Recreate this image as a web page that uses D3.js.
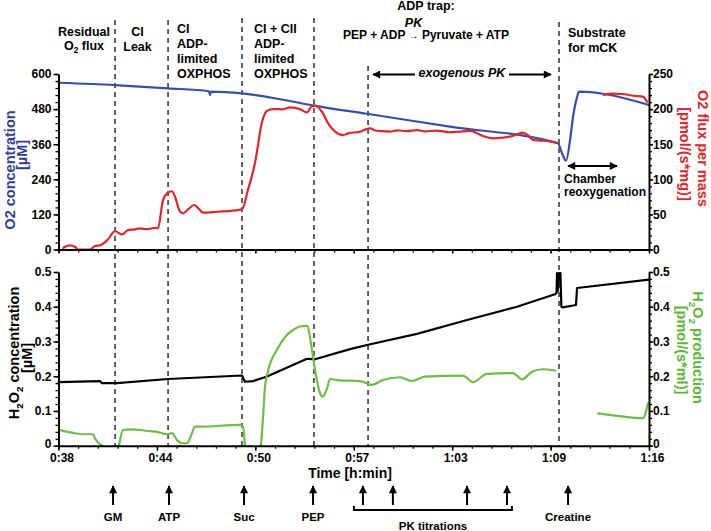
<!DOCTYPE html>
<html><head><meta charset="utf-8">
<script src="https://cdn.jsdelivr.net/npm/d3@7"></script>
<style>
html,body{margin:0;padding:0;background:#fff;}
</style></head><body>
<svg id="chart" width="711" height="531"></svg>
<script>
// ---------------- DATA ----------------
const xDomain = [38, 76];               // minutes
const xTickLabels = ["0:38","0:44","0:50","0:57","1:03","1:09","1:16"];
const o2Ticks = [0,120,240,360,480,600];
const fluxTicks = [0,50,100,150,200,250];
const h2o2Ticks = [0,0.1,0.2,0.3,0.4,0.5];

// O2 concentration [µM] (blue, left top axis)  [minute, value]
const o2Concentration = [[38.00,570],[41.64,562],[45.05,551],[47.68,541],[47.75,528],[47.81,540],[49.81,534],[52.45,512],[54.44,492],[57.85,464],[63.19,420],[70.14,363],[70.40,329],[70.66,304],[70.92,374],[71.11,453],[71.37,521],[71.49,540],[76.00,494]];

// O2 flux per mass [pmol/(s*mg)] (red, right top axis)
const o2FluxA = [[38.30,2],[38.42,4],[38.74,6],[39.06,4],[39.25,0],[40.03,0],[40.35,5],[40.67,6],[41.12,13],[41.64,26],[42.09,21.6],[42.47,27.8],[42.92,28.7],[43.24,30],[43.69,29],[44.21,31],[44.40,30],[44.72,70],[44.98,80],[45.30,83],[45.50,75],[45.82,54],[46.01,51.6],[46.33,57],[46.72,63.4],[47.11,56],[47.30,52.4],[48.20,53.8],[49.23,55.3],[49.81,57.3],[50.19,84.8],[50.64,122.8],[51.10,182],[51.42,197.7],[51.80,200],[52.45,199.7],[52.90,202.6],[53.54,200],[53.99,195.4],[54.31,204.4],[54.51,205],[54.96,196],[55.34,180],[55.80,168],[56.31,163],[56.63,165.5],[57.40,167.8],[57.70,170.5],[58.05,172.6],[58.40,169.5],[58.80,168.5],[59.33,167.8],[59.80,169.8],[60.40,168.6],[61.07,170],[61.60,168.2],[62.30,169.4],[63.19,167],[63.80,168],[64.48,169],[64.90,166],[65.32,161.7],[65.96,158.4],[66.50,159.2],[67.05,160.7],[67.50,164],[67.83,166.4],[68.21,163],[68.53,156],[69.18,155],[69.60,154],[70.08,152]];
const o2FluxB = [[73.10,220],[73.60,222],[74.33,221.5],[75.00,219],[75.61,217.7],[75.87,210.5]];

// H2O2 concentration [µM] (black, left bottom axis)
const h2o2Concentration = [[38.00,0.183],[40.67,0.186],[40.80,0.180],[41.76,0.180],[45.05,0.192],[49.81,0.202],[50.00,0.184],[50.52,0.186],[51.42,0.199],[53.99,0.250],[54.51,0.249],[56.76,0.278],[57.85,0.290],[61.07,0.322],[64.29,0.362],[67.50,0.400],[69.95,0.436],[70.05,0.440],[70.08,0.497],[70.12,0.445],[70.21,0.497],[70.30,0.497],[70.36,0.400],[70.46,0.398],[71.30,0.405],[71.37,0.454],[76.00,0.478]];

// H2O2 production [pmol/(s*ml)] (green, right bottom axis)
const h2o2ProdA = [[38.10,0.045],[38.93,0.037],[39.58,0.033],[40.22,0.033],[40.35,0.021],[40.80,0]];
const h2o2ProdB = [[41.89,0],[42.15,0.045],[42.60,0.047],[43.89,0.042],[44.34,0.040],[44.98,0.033],[45.30,0.036],[45.63,0.016],[45.95,0.007],[46.27,0.007],[46.59,0.036],[46.78,0.055],[47.11,0.055],[49.68,0.060],[49.87,0.055],[50.00,0]];
const h2o2ProdC = [[51.03,0],[51.16,0.08],[51.29,0.17],[51.48,0.215],[52.06,0.276],[52.70,0.319],[53.09,0.333],[53.54,0.343],[53.99,0.345],[54.31,0.276],[54.51,0.218],[54.83,0.151],[55.02,0.141],[55.28,0.165],[55.47,0.192],[55.92,0.189],[57.40,0.186],[58.17,0.175],[58.88,0.189],[59.98,0.197],[60.75,0.186],[61.58,0.199],[64.03,0.202],[64.67,0.183],[65.57,0.207],[67.25,0.209],[67.83,0.191],[68.47,0.213],[69.18,0.220],[69.95,0.216]];
const h2o2ProdD = [[72.72,0.093],[73.94,0.086],[75.61,0.079],[75.93,0.122]];

// Protocol
const phaseBoundaries = [41.64,45.05,49.81,54.44,57.92,70.21];
const additionNames = ["GM","ATP","Suc","PEP","Creatine"];
const additionTimes = [41.51,45.11,49.94,54.38,70.79];
const pkTitrationTimes = [57.59,59.52,64.29,66.86];
const pkBracket = [57.01,67.18];

// ---------------- DRAW ----------------
const FONT = '"Liberation Sans", Arial, Helvetica, sans-serif';
const BLUE = "#3a4ea6", BLUE_T = "#2f3f98", RED = "#e3262b", GREEN = "#6dbd47", GREEN_T = "#5cb83e";
const svg = d3.select("#chart").attr("font-family", FONT).attr("font-weight","bold");

const x = d3.scaleLinear().domain(xDomain).range([58.5, 649]);
const yO2 = d3.scaleLinear().domain([0,600]).range([249.5, 74]);
const yFlux = d3.scaleLinear().domain([0,250]).range([249.5, 74]);
const yConc = d3.scaleLinear().domain([0,0.5]).range([445.7, 272]);
const yProd = d3.scaleLinear().domain([0,0.5]).range([445.7, 272]);

const defs = svg.append("defs");
defs.append("marker").attr("id","ah").attr("viewBox","0 0 10 10").attr("refX",9).attr("refY",5)
  .attr("markerUnits","userSpaceOnUse").attr("markerWidth",9).attr("markerHeight",8)
  .attr("orient","auto-start-reverse")
  .append("path").attr("d","M0,0 L10,5 L0,10 z").attr("fill","#000");

// phase boundary dashed lines
const dashTops = [20,20,18,18,66,22];
svg.append("g").selectAll("line").data(phaseBoundaries).join("line")
  .attr("x1",d=>x(d)).attr("x2",d=>x(d)).attr("y1",(d,i)=>dashTops[i]).attr("y2",445.7)
  .attr("stroke","#222").attr("stroke-width",1.4).attr("stroke-dasharray","5,4");

// data lines
const mk = (ys, curve) => d3.line().x(d=>x(d[0])).y(d=>ys(d[1])).curve(curve);
const drawLine = (data, ys, color, curve) => svg.append("path").datum(data)
  .attr("d", mk(ys, curve)).attr("fill","none").attr("stroke",color)
  .attr("stroke-width",2.2).attr("stroke-linejoin","round").attr("stroke-linecap","round");

drawLine(o2Concentration, yO2, BLUE, d3.curveMonotoneX);
drawLine(o2FluxA, yFlux, RED, d3.curveMonotoneX);
drawLine(o2FluxB, yFlux, RED, d3.curveMonotoneX);
drawLine(h2o2Concentration, yConc, "#000", d3.curveLinear);
[h2o2ProdA,h2o2ProdB,h2o2ProdC,h2o2ProdD].forEach(s=>drawLine(s, yProd, GREEN, d3.curveMonotoneX));

// axes
function styleAxis(g){
  g.attr("font-family",FONT).attr("font-size",12).attr("font-weight","bold");
  g.select(".domain").attr("stroke","#000").attr("stroke-width",2);
  g.selectAll(".tick line").attr("stroke","#000").attr("stroke-width",1.5);
  g.selectAll(".tick text").attr("fill","#000");
}
function minor(g){ g.select(".domain").remove(); g.selectAll(".tick line").attr("stroke","#000").attr("stroke-width",1.3); }
function liftZero(g){ g.selectAll(".tick text").filter(d=>d===0).attr("y",-2); }

const majorX = d3.range(7).map(i => xDomain[0] + i*(xDomain[1]-xDomain[0])/6);
const minorX = d3.range(31).map(i => xDomain[0] + i*(xDomain[1]-xDomain[0])/30);

// top panel
svg.append("g").attr("transform","translate(0,249.5)")
  .call(d3.axisBottom(x).tickValues(minorX).tickSize(3).tickFormat("")).call(minor);
svg.append("g").attr("transform","translate(0,249.5)")
  .call(d3.axisBottom(x).tickValues(majorX).tickSize(4).tickSizeOuter(0).tickFormat("")).call(styleAxis);
svg.append("g").attr("transform","translate(58.5,0)")
  .call(d3.axisLeft(yO2).tickValues(d3.range(0,601,24)).tickSize(3).tickFormat("")).call(minor);
svg.append("g").attr("transform","translate(58.5,0)")
  .call(d3.axisLeft(yO2).tickValues(o2Ticks).tickSize(5).tickSizeOuter(0).tickPadding(2)).call(styleAxis);
svg.append("g").attr("transform","translate(649,0)")
  .call(d3.axisRight(yFlux).tickValues(d3.range(0,251,10)).tickSize(3).tickFormat("")).call(minor);
svg.append("g").attr("transform","translate(649,0)")
  .call(d3.axisRight(yFlux).tickValues(fluxTicks).tickSize(4).tickSizeOuter(0).tickPadding(0)).call(styleAxis);

// bottom panel
svg.append("g").attr("transform","translate(0,445.7)")
  .call(d3.axisBottom(x).tickValues(minorX).tickSize(3).tickFormat("")).call(minor);
svg.append("g").attr("transform","translate(0,445.7)")
  .call(d3.axisBottom(x).tickValues(majorX).tickSize(5).tickSizeOuter(0).tickPadding(3)
    .tickFormat((d,i)=>xTickLabels[i])).call(styleAxis)
  .selectAll(".tick text").attr("dx",3);
const fmt = d => d===0 ? "0" : d3.format(".1f")(d);
svg.append("g").attr("transform","translate(58.5,0)")
  .call(d3.axisLeft(yConc).tickValues(d3.range(0,0.501,0.02)).tickSize(3).tickFormat("")).call(minor);
svg.append("g").attr("transform","translate(58.5,0)")
  .call(d3.axisLeft(yConc).tickValues(h2o2Ticks).tickSize(5).tickSizeOuter(0).tickPadding(2).tickFormat(fmt)).call(styleAxis).call(liftZero);
svg.append("g").attr("transform","translate(649,0)")
  .call(d3.axisRight(yProd).tickValues(d3.range(0,0.501,0.02)).tickSize(3).tickFormat("")).call(minor);
svg.append("g").attr("transform","translate(649,0)")
  .call(d3.axisRight(yProd).tickValues(h2o2Ticks).tickSize(4).tickSizeOuter(0).tickPadding(0).tickFormat(fmt)).call(styleAxis).call(liftZero);

// axis titles
function rotTitle(tx, ty, ang, color, parts, size){
  const t = svg.append("text").attr("transform",`translate(${tx},${ty}) rotate(${ang})`)
    .attr("text-anchor","middle").attr("fill",color).attr("font-size",size||14.5);
  parts.forEach(p=>{
    const ts = t.append("tspan").text(p[0]);
    if(p[1]==="sub") ts.attr("font-size",(size||14.5)*0.68).attr("dy",4);
    if(p[1]==="up") ts.attr("dy",-4);
  });
  return t;
}
rotTitle(14.5,170,-90,BLUE_T,[["O2 concentration"]]);
rotTitle(27,155,-90,BLUE_T,[["[µM]"]]);
rotTitle(19,353,-90,"#000",[["H"],["2","sub"],["O","up"],["2","sub"],[" concentration","up"]]);
rotTitle(32,358,-90,"#000",[["[µM]"]]);
rotTitle(698,148.5,90,RED,[["O2 flux per mass"]]);
rotTitle(680,154,90,RED,[["[pmol/(s*mg)]"]]);
rotTitle(693,347.5,90,GREEN_T,[["H"],["2","sub"],["O","up"],["2","sub"],[" production","up"]]);
rotTitle(677,350,90,GREEN_T,[["[pmol/(s*ml)]"]]);

svg.append("text").attr("x",350).attr("y",478).attr("text-anchor","middle").attr("font-size",14).text("Time [h:min]");

// phase header labels
function stack(xp, anchor, baselines, lines, size){
  lines.forEach((l,i)=>{
    const t = svg.append("text").attr("x",xp).attr("y",baselines[i]).attr("text-anchor",anchor).attr("font-size",size||12.5);
    if(Array.isArray(l)){ l.forEach(p=>{ const ts=t.append("tspan").text(p[0]); if(p[1]==="sub") ts.attr("font-size",8.5).attr("dy",3); if(p[1]==="up") ts.attr("dy",-3);}); }
    else t.text(l);
  });
}
stack(84,"middle",[36,50],["Residual",[["O"],["2","sub"],[" flux","up"]]]);
stack(137.5,"middle",[36,50.5],["CI","Leak"]);
stack(177,"start",[33,48,63,78],["CI","ADP-","limited","OXPHOS"]);
stack(254,"start",[33,48,63,78],["CI + CII","ADP-","limited","OXPHOS"]);
stack(426,"middle",[10],["ADP trap:"]);
const eq = svg.append("text").attr("x",426).attr("y",39).attr("text-anchor","middle").attr("font-size",12);
eq.append("tspan").text("PEP + ADP ");
eq.append("tspan").attr("font-size",10).text("→");
eq.append("tspan").text(" Pyruvate + ATP");
{
  const n = eq.node(); const idx = "PEP + ADP ".length;
  const s = n.getStartPositionOfChar(idx).x, e = n.getEndPositionOfChar(idx).x;
  svg.append("text").attr("x",(s+e)/2).attr("y",27).attr("text-anchor","middle").attr("font-size",12.5).attr("font-style","italic").text("PK");
}
stack(568,"start",[37,51.5],["Substrate","for mCK"]);
svg.append("text").attr("x",462).attr("y",77).attr("text-anchor","middle").attr("font-size",12.5).attr("font-style","italic").text("exogenous PK");
svg.append("line").attr("x1",415).attr("x2",373).attr("y1",74.5).attr("y2",74.5).attr("stroke","#000").attr("stroke-width",2).attr("marker-end","url(#ah)");
svg.append("line").attr("x1",509).attr("x2",551).attr("y1",74.5).attr("y2",74.5).attr("stroke","#000").attr("stroke-width",2).attr("marker-end","url(#ah)");
svg.append("line").attr("x1",568).attr("x2",617).attr("y1",166).attr("y2",166).attr("stroke","#000").attr("stroke-width",2).attr("marker-start","url(#ah)").attr("marker-end","url(#ah)");
stack(564,"start",[182.7,195.5],["Chamber","reoxygenation"],12);

// additions arrows
const allArrows = additionTimes.concat(pkTitrationTimes);
svg.append("g").selectAll("line").data(allArrows).join("line")
  .attr("x1",d=>x(d)).attr("x2",d=>x(d)).attr("y1",505).attr("y2",486)
  .attr("stroke","#000").attr("stroke-width",2).attr("marker-end","url(#ah)");
svg.append("g").selectAll("text").data(additionNames).join("text")
  .attr("x",(d,i)=>x(additionTimes[i])).attr("y",520.5).attr("text-anchor","middle").attr("font-size",11.5).text(d=>d);
svg.append("path").attr("d",`M${x(pkBracket[0])},506 V510 H${x(pkBracket[1])} V506`).attr("fill","none").attr("stroke","#000").attr("stroke-width",2);
svg.append("text").attr("x",(x(pkBracket[0])+x(pkBracket[1]))/2).attr("y",530).attr("text-anchor","middle").attr("font-size",11.5).text("PK titrations");
</script>
</body></html>
